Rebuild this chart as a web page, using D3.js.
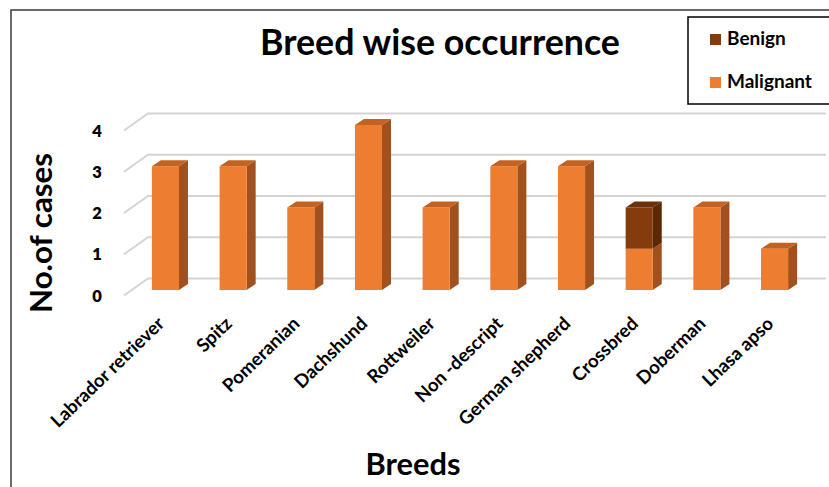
<!DOCTYPE html>
<html><head><meta charset="utf-8">
<script src="https://cdn.jsdelivr.net/npm/d3@7"></script>
<style>
body{margin:0;background:#fff}
svg{display:block}
text{font-family:Lato,"Open Sans",sans-serif;font-weight:700;fill:#000}
</style>
</head><body>
<svg id="c" width="829" height="487"></svg>
<script>
const categories = ["Labrador retriever","Spitz","Pomeranian","Dachshund","Rottweiler","Non -descript","German shepherd","Crossbred","Doberman","Lhasa apso"];
const malignant = [3,3,2,4,2,3,3,1,2,1];
const benign    = [0,0,0,0,0,0,0,1,0,0];
const yTicks = [0,1,2,3,4];
const seriesNames = ["Benign","Malignant"];
const titleText = "Breed wise occurrence";
const xTitle = "Breeds";
const yTitle = "No.of cases";

const colors = {
  Malignant:{front:"#ED7D31", side:"#A0511D", top:"#C4621F"},
  Benign:{front:"#843C0C", side:"#5A2807", top:"#6C300A"}
};

const svg = d3.select("#c");

function fit(sel, target){
  const fs = parseFloat(sel.attr("font-size"));
  const w = sel.node().getComputedTextLength();
  sel.attr("font-size", (fs*target/w).toFixed(2));
}

// outer border
svg.append("rect").attr("x",11).attr("y",10).attr("width",840).attr("height",500)
  .attr("fill","none").attr("stroke","#3a3a3a").attr("stroke-width",1.5);

const x = d3.scaleBand().domain(categories).range([131.6, 808.4]).paddingInner(0.6).paddingOuter(0.3);
const y = d3.scaleLinear().domain([0,4]).range([290,125]);

// 3D geometry offsets
const wallBack = -11.5, wallFront = 5.5, wallX0 = 124, wallX1 = 148, wallXEnd = 826;
const bdx = 9, bdy = -6;

// gridlines
const grid = svg.append("g").attr("stroke","#d4d4d4").attr("stroke-width",2).attr("fill","none");
yTicks.forEach(v=>{
  grid.append("path").attr("d",
    `M${wallX0},${y(v)+wallFront}L${wallX1},${y(v)+wallBack}L${wallXEnd},${y(v)+wallBack}`);
});

// y tick labels
svg.append("g").selectAll("text").data(yTicks).join("text")
  .attr("x",97).attr("y",d=>y(d)+wallFront+6).attr("text-anchor","middle")
  .attr("font-size",16.5).style("font-weight",800).text(d=>d);

// bars
const stackData = categories.map((c,i)=>({c, Malignant:malignant[i], Benign:benign[i]}));
const stack = d3.stack().keys(["Malignant","Benign"])(stackData);
const barsG = svg.append("g");
categories.forEach((c,i)=>{
  const x0 = x(c), x1 = x(c)+x.bandwidth();
  const segs = stack.map(s=>({key:s.key, y0:s[i][0], y1:s[i][1]})).filter(s=>s.y1>s.y0);
  segs.forEach((s,j)=>{
    const col = colors[s.key];
    const yt = y(s.y1), yb = y(s.y0);
    barsG.append("path").attr("fill",col.side)
      .attr("d",`M${x1},${yt}L${x1+bdx},${yt+bdy}L${x1+bdx},${yb+bdy}L${x1},${yb}Z`);
    barsG.append("rect").attr("x",x0).attr("y",yt).attr("width",x1-x0).attr("height",yb-yt)
      .attr("fill",col.front);
    if(j===segs.length-1){
      barsG.append("path").attr("fill",col.top)
        .attr("d",`M${x0},${yt}L${x0+bdx},${yt+bdy}L${x1+bdx},${yt+bdy}L${x1},${yt}Z`);
    }
  });
});

// x labels
const xl = svg.append("g").selectAll("text").data(categories).join("text")
  .attr("transform",d=>`translate(${x(d)+x.bandwidth()/2},325) rotate(-44)`)
  .attr("text-anchor","end").attr("font-size",16).text(d=>d);
(function(){
  const n = xl.nodes()[0];
  const w = n.getComputedTextLength();
  xl.attr("font-size",(16*149/w).toFixed(2));
})();

// title
const t = svg.append("text").attr("x",440).attr("y",55).attr("text-anchor","middle")
  .attr("font-size",32).text(titleText);
fit(t,360);

// axis titles
const yt = svg.append("text").attr("transform","translate(52,233) rotate(-90)")
  .attr("text-anchor","middle").attr("font-size",32).text(yTitle);
fit(yt,160);
const xt = svg.append("text").attr("x",413).attr("y",475).attr("text-anchor","middle")
  .attr("font-size",26).text(xTitle);
fit(xt,95);

// legend
const lg = svg.append("g");
lg.append("rect").attr("x",688).attr("y",17).attr("width",160).attr("height",87)
  .attr("fill","#fff").attr("stroke","#000").attr("stroke-width",1.5);
const legY = [45, 88];
seriesNames.forEach((s,i)=>{
  lg.append("rect").attr("x",710).attr("y",legY[i]-11).attr("width",11).attr("height",11)
    .attr("fill",colors[s].front);
  lg.append("text").attr("x",727).attr("y",legY[i]).attr("font-size",18).attr("class","lt").text(s);
});
(function(){
  const lt = lg.selectAll("text.lt");
  const w = lt.nodes()[1].getComputedTextLength();
  lt.attr("font-size",(18*85/w).toFixed(2));
})();
</script>
</body></html>
